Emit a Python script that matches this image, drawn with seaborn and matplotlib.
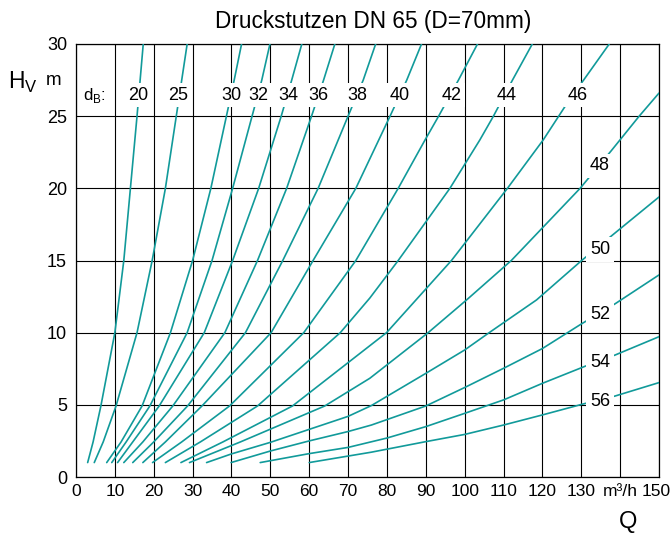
import matplotlib
matplotlib.use("Agg")
import matplotlib.pyplot as plt
import matplotlib.transforms as mtransforms
import seaborn as sns
import pandas as pd

# ---------------- data ----------------
# Q in m³/h, H_V in m, one curve per orifice diameter d_B
Q_20 = [3.0, 4.4, 6.4, 10.0, 12.3, 14.0, 15.7, 16.5, 17.3]
H_20 = [1.0, 2.43, 4.92, 10.0, 15.0, 20.0, 25.0, 27.5, 30.0]
Q_25 = [4.7, 7.0, 10.3, 15.7, 19.6, 23.0, 25.8, 27.2, 28.6]
H_25 = [1.0, 2.43, 4.92, 10.0, 15.0, 20.0, 25.0, 27.5, 30.0]
Q_30 = [7.9, 11.6, 17.0, 24.3, 30.0, 34.7, 38.7, 40.7, 42.6]
H_30 = [1.0, 2.43, 4.92, 10.0, 15.0, 20.0, 25.0, 27.5, 30.0]
Q_32 = [9.2, 12.9, 19.0, 28.6, 35.0, 40.3, 45.3, 47.8, 49.9]
H_32 = [1.0, 2.43, 4.92, 10.0, 15.0, 20.0, 25.0, 27.5, 30.0]
Q_34 = [10.7, 14.6, 21.4, 33.0, 40.3, 47.0, 52.8, 55.5, 58.1]
H_34 = [1.0, 2.43, 4.92, 10.0, 15.0, 20.0, 25.0, 27.5, 30.0]
Q_36 = [12.3, 17.2, 24.9, 38.3, 46.7, 54.2, 60.6, 63.7, 66.6]
H_36 = [1.0, 2.43, 4.92, 10.0, 15.0, 20.0, 25.0, 27.5, 30.0]
Q_38 = [14.6, 20.0, 28.7, 43.6, 53.2, 62.3, 70.0, 73.9, 77.1]
H_38 = [1.0, 2.43, 4.92, 10.0, 15.0, 20.0, 25.0, 27.5, 30.0]
Q_40 = [17.2, 23.0, 32.4, 50.2, 61.0, 72.0, 80.8, 85.1, 88.9]
H_40 = [1.0, 2.43, 4.92, 10.0, 15.0, 20.0, 25.0, 27.5, 30.0]
Q_42 = [19.7, 27.2, 39.5, 58.6, 72.0, 82.9, 89.8, 93.3, 98.4, 103.3]
H_42 = [1.0, 2.43, 4.92, 10.0, 15.0, 20.0, 23.35, 25.0, 27.5, 30.0]
Q_44 = [23.0, 32.0, 46.7, 68.0, 75.6, 82.9, 96.2, 103.9, 107.4, 112.3, 117.4]
H_44 = [1.0, 2.43, 4.92, 10.0, 12.4, 15.0, 20.0, 23.35, 25.0, 27.5, 30.0]
Q_46 = [27.0, 37.8, 55.7, 79.9, 96.6, 111.0, 120.2, 127.1, 130.6, 137.2]
H_46 = [1.0, 2.43, 4.92, 10.0, 15.0, 20.0, 23.35, 26.2, 27.5, 30.0]
Q_48 = [29.2, 42.3, 64.0, 75.6, 90.6, 100.5, 112.0, 129.7, 137.7, 144.9, 150.0]
H_48 = [1.0, 2.43, 4.92, 6.84, 10.0, 12.27, 15.0, 20.0, 22.6, 25.0, 26.6]
Q_50 = [33.6, 40.0, 50.0, 60.0, 70.0, 76.0, 90.0, 100.0, 106.3, 118.5, 130.1, 138.2, 150.0]
H_50 = [1.0, 1.6, 2.4, 3.3, 4.2, 4.95, 7.18, 8.8, 10.0, 12.27, 15.0, 16.8, 19.4]
Q_52 = [39.9, 50.0, 60.0, 70.0, 76.0, 90.0, 100.0, 110.0, 120.0, 130.0, 138.7, 150.0]
H_52 = [1.0, 1.8, 2.5, 3.15, 3.6, 4.92, 6.2, 7.53, 8.9, 10.6, 12.0, 14.0]
Q_54 = [47.4, 60.0, 70.0, 80.0, 90.0, 100.0, 110.0, 120.0, 131.8, 138.7, 150.0]
H_54 = [1.0, 1.62, 2.05, 2.7, 3.49, 4.41, 5.34, 6.49, 7.76, 8.45, 9.72]
Q_56 = [60.0, 76.0, 90.0, 100.0, 110.0, 120.0, 130.5, 138.7, 150.0]
H_56 = [1.0, 1.72, 2.45, 2.95, 3.6, 4.3, 5.06, 5.61, 6.54]

diameters = [20, 25, 30, 32, 34, 36, 38, 40, 42, 44, 46, 48, 50, 52, 54, 56]
top_labels = ["20", "25", "30", "32", "34", "36", "38", "40", "42", "44", "46"]
right_labels = ["48", "50", "52", "54", "56"]
x_tick_values = list(range(0, 151, 10))
x_tick_labels = ["0", "10", "20", "30", "40", "50", "60", "70", "80", "90",
                 "100", "110", "120", "130", "m³/h", "150"]
y_tick_values = [0, 5, 10, 15, 20, 25, 30]
title = "Druckstutzen DN 65 (D=70mm)"

# ---------------- label placement ----------------
top_label_q = [16.0, 26.3, 39.9, 46.9, 54.6, 62.3, 72.4, 83.4, 96.7, 110.8, 129.0]
top_label_h = 26.6
right_label_q = 134.8
right_label_h = [21.7, 15.9, 11.4, 8.1, 5.4]

curves_q = [Q_20, Q_25, Q_30, Q_32, Q_34, Q_36, Q_38, Q_40, Q_42, Q_44, Q_46,
            Q_48, Q_50, Q_52, Q_54, Q_56]
curves_h = [H_20, H_25, H_30, H_32, H_34, H_36, H_38, H_40, H_42, H_44, H_46,
            H_48, H_50, H_52, H_54, H_56]
rows = []
for d, qs, hs in zip(diameters, curves_q, curves_h):
    for q, h in zip(qs, hs):
        rows.append({"dB": d, "Q": q, "H": h})
df = pd.DataFrame(rows)

# ---------------- style ----------------
sns.set_theme(style="white")
plt.rcParams["font.family"] = ["Liberation Sans", "DejaVu Sans"]
plt.rcParams["mathtext.fontset"] = "custom"
plt.rcParams["mathtext.rm"] = "Liberation Sans"

TEAL = "#119a9a"
W, Hpx = 672, 535

fig = plt.figure(figsize=(6.72, 5.35), dpi=100)
ax = fig.add_axes([76 / W, 1 - 477 / Hpx, (659 - 76) / W, (477 - 44) / Hpx])

sns.lineplot(data=df, x="Q", y="H", units="dB", estimator=None, sort=False,
             color=TEAL, linewidth=1.2, ax=ax, zorder=3, legend=False)

ax.set_xlim(0, 150)
ax.set_ylim(0, 30)
ax.set_xticks(x_tick_values)
ax.set_xticklabels(x_tick_labels)
ax.set_yticks(y_tick_values)
ax.set_yticklabels([str(v) for v in y_tick_values])
ax.tick_params(axis="both", length=0, colors="black")
ax.tick_params(axis="x", pad=5, labelsize=12.5)
ax.tick_params(axis="y", pad=6.5, labelsize=13)
# nudge the last x label ("150") slightly left so it stays inside the image
last = ax.get_xticklabels()[-1]
last.set_transform(last.get_transform() +
                   mtransforms.ScaledTranslation(-3 / 100, 0, fig.dpi_scale_trans))
ax.grid(True, color="black", linewidth=0.8, zorder=1)
ax.set_axisbelow(True)
for s in ax.spines.values():
    s.set_color("black")
    s.set_linewidth(0.9)
ax.set_xlabel("")
ax.set_ylabel("")

box = dict(boxstyle="square,pad=0.2", facecolor="white", edgecolor="none")
half_digit = 0.45  # baseline offset so digits are centred on the label point
for lab, q in zip(top_labels, top_label_q):
    ax.text(q, top_label_h - half_digit, lab, ha="center", va="baseline",
            fontsize=13, color="black", bbox=box, zorder=5)
for lab, h in zip(right_labels, right_label_h):
    ax.text(right_label_q, h - half_digit, lab, ha="center", va="baseline",
            fontsize=13, color="black", bbox=box, zorder=5)
ax.text(4.7, top_label_h - half_digit, r"d$_{\mathregular{B}}$:", ha="center",
        va="baseline", fontsize=12, color="black", zorder=5)

# title and axis names
fig.text(373.5 / W, 1 - 28.3 / Hpx, title, ha="center", va="baseline",
         fontsize=16.3, color="black")
fig.text(16.0 / W, 1 - 88.3 / Hpx, "H", ha="center", va="baseline",
         fontsize=16.5, color="black")
fig.text(30.5 / W, 1 - 91.5 / Hpx, "V", ha="center", va="baseline",
         fontsize=12, color="black")
fig.text(53.5 / W, 1 - 85.0 / Hpx, "m", ha="center", va="baseline",
         fontsize=13.5, color="black")
fig.text(628 / W, 1 - 528 / Hpx, "Q", ha="center", va="baseline",
         fontsize=17, color="black")

fig.savefig("out.png", dpi=100)
